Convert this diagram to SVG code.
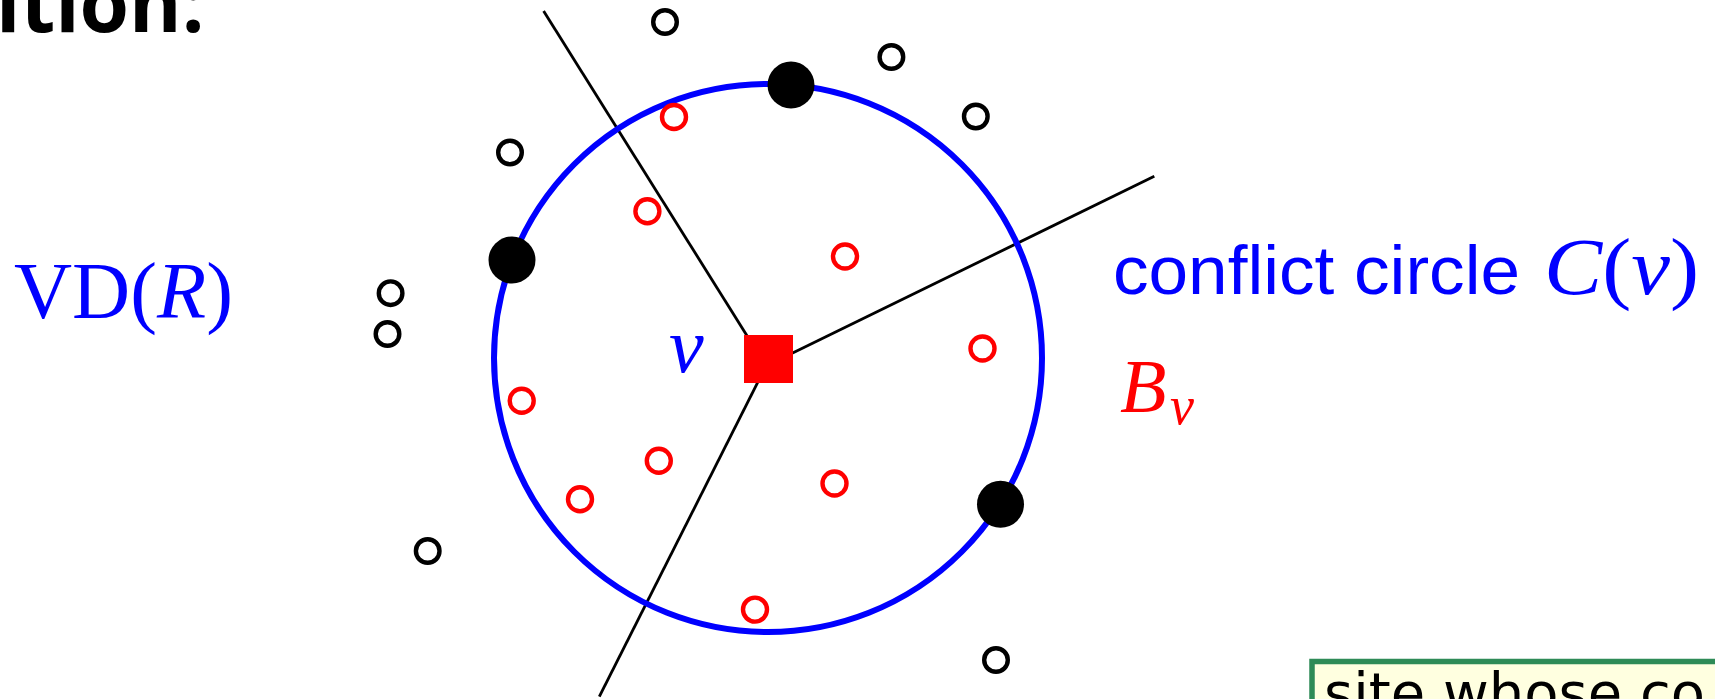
<svg xmlns="http://www.w3.org/2000/svg" width="1715" height="699" viewBox="0 0 1715 699">
<style>
.site{fill:none;stroke:#000;stroke-width:4.4}
.conf{fill:none;stroke:#ff0000;stroke-width:4.4}
.def{fill:#000}
.edge{stroke:#000;stroke-width:2.8;fill:none}
.math{font-family:"Liberation Serif",serif}
.it{font-style:italic}
</style>
<rect width="1715" height="699" fill="#fff"/>
<g id="title"><text x="-4" y="32" font-family="Open Sans, sans-serif" font-weight="700" font-size="80" fill="#000">ition:</text></g>
<g id="connectors">
<line class="edge" x1="766" y1="366" x2="543.6" y2="11"/>
<line class="edge" x1="766" y1="366" x2="1154.3" y2="176.3"/>
<line class="edge" x1="766" y1="366" x2="599.3" y2="696.7"/>
</g>
<g id="conflict-circle"><circle cx="768" cy="358" r="274" fill="none" stroke="#0000ff" stroke-width="6"/></g>
<g id="vertex-v"><rect x="744" y="335" width="49" height="48" fill="#ff0000"/></g>
<g id="defining-sites">
<circle class="def" cx="791" cy="85" r="23.5"/>
<circle class="def" cx="512" cy="260" r="23.5"/>
<circle class="def" cx="1000.5" cy="504.3" r="23.5"/>
</g>
<g id="conflict-sites">
<circle class="conf" cx="674" cy="117" r="12"/>
<circle class="conf" cx="647.4" cy="211.2" r="12"/>
<circle class="conf" cx="845" cy="256.5" r="12"/>
<circle class="conf" cx="982.5" cy="348.5" r="12"/>
<circle class="conf" cx="521.7" cy="400.7" r="12"/>
<circle class="conf" cx="658.8" cy="460.8" r="12"/>
<circle class="conf" cx="580" cy="499.3" r="12"/>
<circle class="conf" cx="834.5" cy="483.5" r="12"/>
<circle class="conf" cx="755" cy="609.6" r="12"/>
</g>
<g id="other-sites">
<circle class="site" cx="665" cy="22" r="11.8"/>
<circle class="site" cx="891.4" cy="57" r="11.8"/>
<circle class="site" cx="975.8" cy="116.5" r="11.8"/>
<circle class="site" cx="510" cy="152.5" r="11.8"/>
<circle class="site" cx="390.6" cy="293.2" r="11.8"/>
<circle class="site" cx="387.5" cy="334" r="11.8"/>
<circle class="site" cx="427.7" cy="551" r="11.8"/>
<circle class="site" cx="996" cy="660" r="11.8"/>
</g>
<g id="label-vd"><text class="math" x="14" y="318" font-size="80" fill="#0000ff" textLength="219" lengthAdjust="spacingAndGlyphs">VD(<tspan class="it">R</tspan>)</text></g>
<g id="label-v"><text class="math it" x="669" y="372" font-size="78" fill="#0000ff">v</text></g>
<g id="label-circle"><text x="1113" y="294" font-family="Liberation Sans, sans-serif" font-size="68" fill="#0000ff" textLength="407" lengthAdjust="spacingAndGlyphs">conflict circle</text><text class="math" x="1544" y="294" font-size="80" fill="#0000ff" textLength="155" lengthAdjust="spacingAndGlyphs"><tspan class="it">C</tspan>(<tspan class="it">v</tspan>)</text></g>
<g id="label-bv"><text class="math it" x="1120" y="412" font-size="76" fill="#ff0000">B</text><text class="math it" x="1170" y="424" font-size="54" fill="#ff0000">v</text></g>
<g id="note"><rect x="1312" y="661.5" width="420" height="60" fill="#ffffe0" stroke="#2e8b57" stroke-width="5.5"/><text x="1324" y="712" font-family="DejaVu Sans, sans-serif" font-size="56" fill="#000">site whose co</text></g>
</svg>
